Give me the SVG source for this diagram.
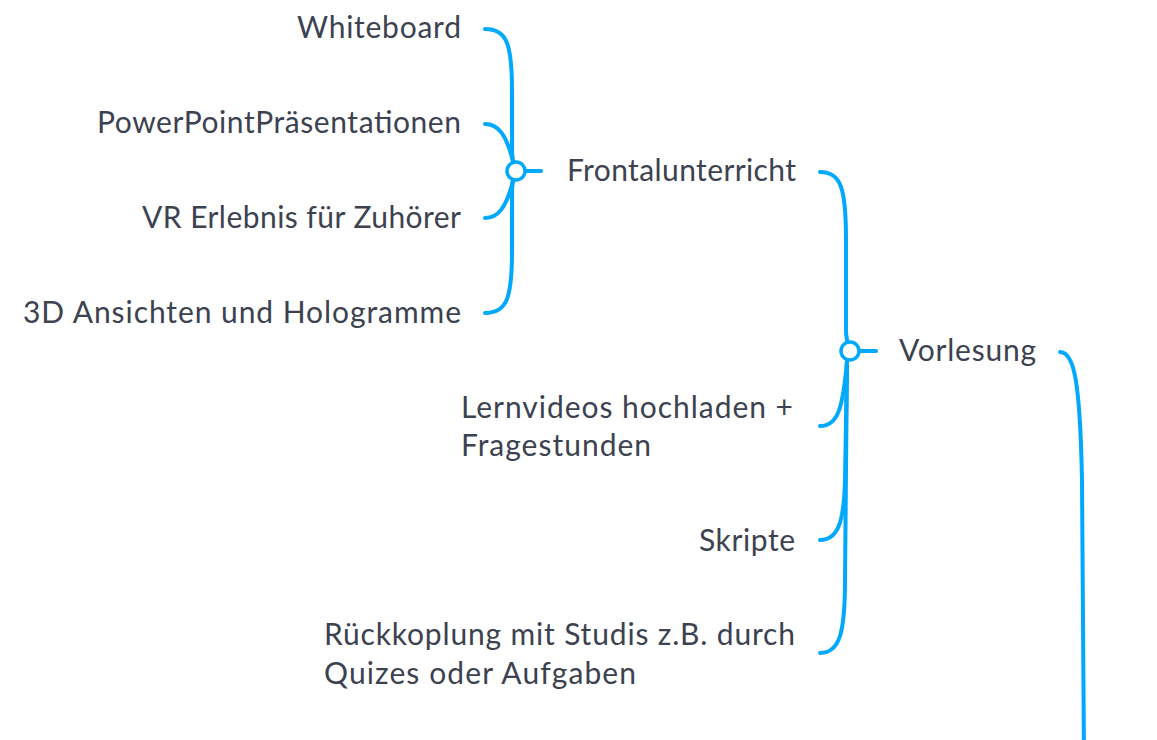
<svg xmlns="http://www.w3.org/2000/svg" width="1157" height="740" viewBox="0 0 1157 740">
<style>
.c{fill:none;stroke:#00a9fb;stroke-width:4;stroke-linecap:round}
.hub{fill:#fff;stroke:#00a9fb;stroke-width:3.5}
.t{font-family:Lato,"Open Sans",sans-serif;font-size:30px;fill:#3c4250}
.e{text-anchor:end}
</style>
<rect width="1157" height="740" fill="#fff"/>
<g id="connectors">
<path class="c" d="M485,29 C506,29 512,42 512,90 L512,152 C512,162 514,166 516,171"/>
<path class="c" d="M485,124 C498,124 506,134 513,161"/>
<path class="c" d="M485,218 C498,218 506,208 513,181"/>
<path class="c" d="M485,313 C506,313 512,300 512,252 L512,190 C512,180 514,176 516,171"/>
<path class="c" d="M525,171 L541,171"/>
<path class="c" d="M820,172 C841,172 846,188 846,240 L846,330 C846,340 848,345 850,351"/>
<path class="c" d="M820,426 C838,426 843,408 847,361"/>
<path class="c" d="M820,540 C838,540 844,522 845,480 L847,361"/>
<path class="c" d="M820,653 C840,653 845,632 845,580 L847,361"/>
<path class="c" d="M859,351 L876,351"/>
<path class="c" d="M1060,352 C1074,352 1080,380 1082,480 L1084,760"/>
</g>
<g id="hub-frontal"><circle class="hub" cx="516" cy="171" r="9"/></g>
<g id="hub-vorlesung"><circle class="hub" cx="850" cy="351" r="9"/></g>
<g id="n-whiteboard"><text class="t" x="297" y="38" textLength="164">Whiteboard</text></g>
<g id="n-powerpoint"><text class="t" x="97" y="133" textLength="364">PowerPointPräsentationen</text></g>
<g id="n-vr"><text class="t" x="142" y="228" textLength="319">VR Erlebnis für Zuhörer</text></g>
<g id="n-3d"><text class="t" x="23" y="323" textLength="438">3D Ansichten und Hologramme</text></g>
<g id="n-frontal"><text class="t" x="567" y="181" textLength="229">Frontalunterricht</text></g>
<g id="n-vorlesung"><text class="t" x="899" y="361" textLength="137">Vorlesung</text></g>
<g id="n-lernvideos"><text class="t" x="461" y="418" textLength="332">Lernvideos hochladen +</text><text class="t" x="461" y="456" textLength="190">Fragestunden</text></g>
<g id="n-skripte"><text class="t" x="699" y="551" textLength="96">Skripte</text></g>
<g id="n-rueck"><text class="t" x="324" y="645" textLength="471">Rückkoplung mit Studis z.B. durch</text><text class="t" x="324" y="684" textLength="312">Quizes oder Aufgaben</text></g>
</svg>
